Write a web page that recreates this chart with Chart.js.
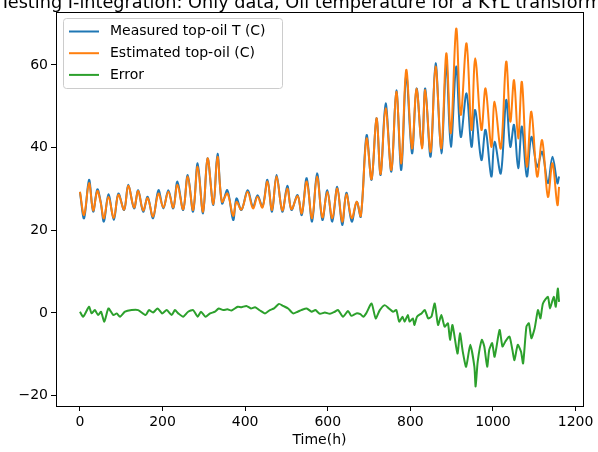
<!DOCTYPE html>
<html>
<head>
<meta charset="utf-8">
<script src="https://cdn.jsdelivr.net/npm/chart.js@4"></script>
<style>
  body { margin: 0; background: #fff; }
  #wrap { width: 598px; height: 452px; }
</style>
</head>
<body>
<div id="wrap"><canvas id="oil-chart" width="598" height="452"></canvas></div>
<script>
const titleText = 'Testing I-integration: Only data, Oil temperature for a KYL transformer';
const seriesNames = ['Measured top-oil T (C)', 'Estimated top-oil (C)', 'Error'];
const seriesColors = ['#1f77b4', '#ff7f0e', '#2ca02c'];

// hours of the daily peaks / troughs
const hours = [0, 10, 22, 32, 42, 50, 58, 69, 82, 93, 107, 117, 131, 141, 153, 164, 177, 190, 202, 214,
  226, 236, 250, 261, 274, 285, 298, 309, 323, 333, 344, 357, 371, 379, 391, 406, 419, 430, 442, 454,
  465, 476, 490, 502, 512, 527, 537, 549, 562, 574, 587, 599, 611, 623, 635, 645, 658, 670, 680, 694,
  706, 718, 728, 740, 754, 766, 778, 790, 804, 815, 828, 836, 849, 861, 875, 887, 898, 911, 922, 936,
  948, 957, 972, 982, 996, 1004, 1019, 1032, 1042, 1051, 1061, 1070, 1082, 1093, 1107, 1119, 1133, 1144, 1156, 1160];

const measured = [29.3, 22.9, 32.2, 24.5, 29.9, 27.0, 22.1, 28.7, 22.5, 28.9, 24.9, 31.0, 25.3, 29.7, 24.5, 28.1, 22.9, 29.7, 25.3, 29.7,
  25.3, 31.8, 24.9, 33.4, 24.5, 36.2, 24.1, 37.4, 26.1, 38.5, 26.5, 29.7, 22.5, 27.7, 24.9, 29.7, 25.7, 28.5, 25.7, 32.2,
  24.5, 33.4, 24.5, 30.8, 24.9, 28.5, 23.7, 32.6, 22.1, 33.8, 22.5, 29.7, 22.1, 30.5, 21.3, 29.1, 22.1, 26.9, 23.3, 43.0,
  32.2, 47.1, 33.4, 50.7, 34.2, 53.9, 34.6, 57.5, 38.6, 54.3, 40.0, 54.3, 37.8, 60.4, 38.6, 60.1, 40.2, 59.6, 42.6, 53.1,
  40.2, 49.1, 37.0, 44.3, 33.0, 41.4, 33.8, 51.5, 40.2, 45.5, 35.0, 45.1, 33.0, 42.6, 35.4, 39.0, 31.4, 37.8, 31.4, 33.0];

const estimated = [29.3, 23.7, 31.4, 24.8, 29.5, 26.8, 22.9, 28.1, 23.0, 28.6, 25.0, 30.8, 25.5, 29.5, 24.8, 27.8, 23.3, 28.9, 25.5, 29.3,
  25.5, 31.0, 25.1, 33.0, 24.9, 35.4, 24.5, 37.4, 26.3, 37.8, 26.9, 28.9, 23.5, 26.9, 25.0, 29.3, 25.3, 28.1, 25.5, 31.8,
  24.9, 33.0, 24.8, 30.1, 25.1, 28.3, 24.1, 31.8, 22.9, 33.0, 23.1, 29.3, 22.9, 30.1, 22.1, 28.7, 22.9, 26.9, 23.5, 42.2,
  32.4, 47.1, 33.6, 49.5, 34.6, 53.5, 36.2, 58.8, 39.8, 54.3, 39.8, 53.9, 39.0, 59.6, 39.8, 62.8, 43.5, 68.8, 47.9, 65.2,
  44.3, 61.6, 44.3, 54.3, 40.2, 51.1, 39.8, 60.8, 46.3, 56.3, 42.2, 55.9, 35.4, 48.7, 33.0, 41.8, 28.1, 36.2, 26.1, 30.5];

const errHours = [0, 8, 22, 28, 36, 44, 51, 59, 69, 81, 89, 97, 109, 125, 141, 159, 167, 177, 188, 199,
  210, 222, 230, 238, 250, 262, 274, 285, 293, 304, 315, 327, 336, 347, 357, 367, 382, 391, 403, 414,
  424, 436, 448, 460, 470, 482, 492, 504, 516, 527, 536, 549, 561, 570, 581, 593, 605, 617, 625, 637,
  649, 657, 669, 679, 686, 693, 706, 716, 726, 738, 748, 758, 766, 773, 781, 786, 794, 798, 806, 810,
  816, 827, 835, 843, 851, 859, 867, 875, 883, 891, 896, 902, 914, 920, 927, 935, 945, 955, 958, 963,
  973, 979, 986, 991, 998, 1004, 1016, 1023, 1030, 1040, 1047, 1052, 1060, 1068, 1073, 1081, 1087, 1093, 1101, 1109,
  1115, 1121, 1133, 1138, 1147, 1152, 1157, 1160];

const errValues = [0.3, -0.9, 1.5, -0.1, 0.7, -0.5, 0.3, -2.1, 1.1, -0.5, -0.1, -0.9, 0.3, 0.7, 0.7, -0.5, 0.7, 0.1, 1.1, -0.1,
  0.7, -0.5, 0.7, -0.1, -0.9, 0.3, 0.7, -0.9, 0.3, -0.9, -0.1, 0.3, 1.1, 0.7, 0.9, 0.6, 1.5, 1.4, 1.7, 1.1,
  1.4, 0.6, -0.1, 0.7, 1.1, 2.2, 1.7, 1.1, -0.1, 0.3, 0.7, 1.1, 0.3, 0.7, -0.2, 0.1, -0.2, 0.3, 0.7, -0.9,
  0.5, -0.7, -0.1, -0.3, -0.9, -0.1, 2.3, -1.3, 0.7, 1.9, 1.1, 0.3, 0.7, -2.1, -0.9, -2.1, -0.5, -2.1, -1.3, -2.9,
  -0.9, -0.1, 0.7, -1.3, -0.9, 2.3, -2.9, -0.5, -3.3, -2.5, -6.5, -2.9, -9.8, -4.9, -9.4, -13.0, -7.7, -13.0, -17.8, -11.8,
  -6.5, -8.1, -13.0, -8.9, -7.3, -10.6, -4.1, -8.1, -6.9, -5.7, -8.9, -11.4, -7.7, -9.4, -12.2, -3.3, -2.5, -6.1, -3.7, 0.7,
  -1.3, 2.3, 3.9, 1.1, 3.9, 1.5, 5.9, 2.7];

const xTicks = [0, 200, 400, 600, 800, 1000, 1200];
const yTicks = [-20, 0, 20, 40, 60];

function toPoints(xs, ys) {
  return xs.map((x, i) => ({ x: x, y: ys[i] }));
}

function fmtTick(v) {
  return v < 0 ? '\u2212' + Math.abs(v) : String(v);
}

// top/right spines, cut-off title and matplotlib-like legend
const mplDecor = {
  id: 'mplDecor',
  afterDatasetsDraw(chart) {
    const c = chart.ctx;
    const a = chart.chartArea;
    c.save();
    c.strokeStyle = '#000';
    c.lineWidth = 1;
    c.strokeRect(Math.round(a.left) + 0.5, Math.round(a.top) + 0.5, Math.round(a.right - a.left), Math.round(a.bottom - a.top));

    // legend box
    const bx = 63.5, by = 18.5, bw = 219, bh = 70;
    c.beginPath();
    c.roundRect(bx, by, bw, bh, 3);
    c.fillStyle = 'rgba(255,255,255,0.8)';
    c.fill();
    c.strokeStyle = '#cccccc';
    c.stroke();
    c.font = '14px "DejaVu Sans"';
    c.textBaseline = 'middle';
    c.fillStyle = '#000';
    seriesNames.forEach((name, i) => {
      const y = 31.5 + i * 21.7;
      c.beginPath();
      c.moveTo(69, y);
      c.lineTo(99, y);
      c.strokeStyle = seriesColors[i];
      c.lineWidth = 2;
      c.stroke();
      c.fillText(name, 110, y);
    });

    // title is wider than the canvas, so both ends get cut
    c.font = '17.7px "DejaVu Sans"';
    c.textAlign = 'center';
    c.textBaseline = 'alphabetic';
    c.fillText(titleText, 310, 8);
    c.restore();
  }
};

const axisGrid = { display: true, drawOnChartArea: false, drawTicks: true, tickLength: 5, color: '#000', tickWidth: 1 };

const ctx = document.getElementById('oil-chart').getContext('2d');

const config = {
  type: 'line',
  data: {
    datasets: [
      {
        label: seriesNames[0],
        data: toPoints(hours, measured),
        borderColor: seriesColors[0],
        borderWidth: 2,
        pointRadius: 0,
        tension: 0.35,
        order: 1
      },
      {
        label: seriesNames[1],
        data: toPoints(hours, estimated),
        borderColor: seriesColors[1],
        borderWidth: 2,
        pointRadius: 0,
        tension: 0.35,
        order: 0
      },
      {
        label: seriesNames[2],
        data: toPoints(errHours, errValues),
        borderColor: seriesColors[2],
        borderWidth: 2,
        pointRadius: 0,
        tension: 0.2,
        order: 2
      }
    ]
  },
  options: {
    responsive: false,
    animation: false,
    layout: { padding: { top: 12, right: 15, left: 0, bottom: 0 } },
    scales: {
      x: {
        type: 'linear',
        min: -58,
        max: 1218,
        afterBuildTicks: s => { s.ticks = xTicks.map(v => ({ value: v })); },
        afterFit: s => { s.height = 46; },
        ticks: { color: '#000', padding: 3, maxRotation: 0, font: { family: 'DejaVu Sans', size: 14 }, callback: fmtTick },
        grid: axisGrid,
        border: { display: true, color: '#000', width: 1 },
        title: { display: true, text: 'Time(h)', color: '#000', padding: { top: 0, bottom: 3 }, font: { family: 'DejaVu Sans', size: 14 } }
      },
      y: {
        min: -22.5,
        max: 72.8,
        afterBuildTicks: s => { s.ticks = yTicks.map(v => ({ value: v })); },
        afterFit: s => { s.width = 56; },
        ticks: { color: '#000', padding: 3, font: { family: 'DejaVu Sans', size: 14 }, callback: fmtTick },
        grid: axisGrid,
        border: { display: true, color: '#000', width: 1 }
      }
    },
    plugins: {
      legend: { display: false },
      tooltip: { enabled: false }
    }
  },
  plugins: [mplDecor]
};

const oilChart = new Chart(ctx, config);
</script>
</body>
</html>
